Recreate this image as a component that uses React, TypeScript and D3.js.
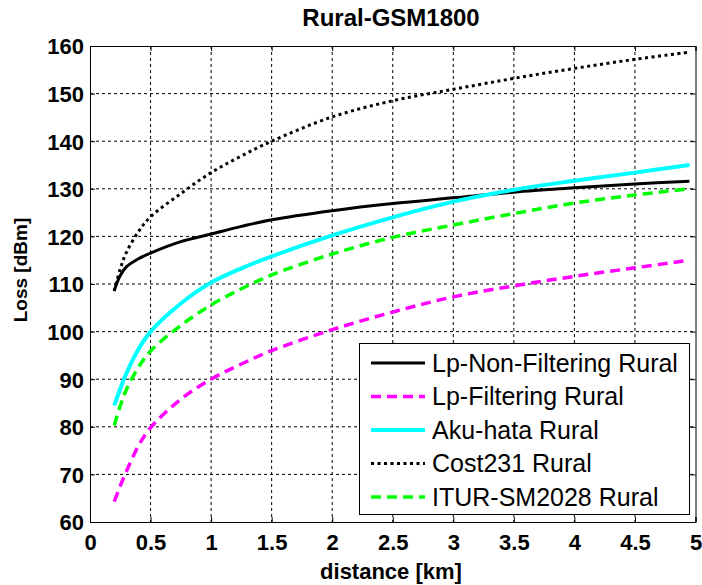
import React, { useEffect, useRef } from 'react';
import * as d3 from 'd3';

const distance = [0.2, 0.25, 0.3, 0.4, 0.5, 0.75, 1, 1.25, 1.5, 2, 2.5, 3, 3.5, 4, 4.5, 4.95];

const lpNonFiltering = [108.7, 111.8, 113.6, 115.3, 116.5, 118.9, 120.5, 122.1, 123.5, 125.4, 126.9, 128.1, 129.3, 130.2, 131.0, 131.6];
const lpFiltering = [64.3, 67.6, 70.6, 76.0, 79.8, 85.8, 90.0, 93.2, 96.0, 100.4, 104.1, 107.3, 109.6, 111.6, 113.4, 115.0];
const akuHata = [84.5, 88.0, 91.2, 96.3, 100.0, 105.9, 110.3, 113.3, 115.8, 120.2, 124.0, 127.3, 129.8, 131.7, 133.4, 135.0];
const cost231 = [108.5, 113.2, 116.6, 121.0, 124.1, 129.0, 133.4, 136.9, 140.0, 145.1, 148.5, 150.9, 153.2, 155.3, 157.2, 158.7];
const itur = [80.3, 84.4, 87.8, 92.5, 95.9, 101.3, 105.6, 109.0, 111.9, 116.3, 119.8, 122.4, 124.8, 127.0, 128.7, 130.0];

const xTicks = [0, 0.5, 1, 1.5, 2, 2.5, 3, 3.5, 4, 4.5, 5];
const yTicks = [60, 70, 80, 90, 100, 110, 120, 130, 140, 150, 160];

const series = [
  { name: 'Lp-Non-Filtering Rural', values: lpNonFiltering, color: '#000000', width: 3, dash: null },
  { name: 'Lp-Filtering Rural', values: lpFiltering, color: '#ff00ff', width: 3.5, dash: '10,6' },
  { name: 'Aku-hata Rural', values: akuHata, color: '#00ffff', width: 4, dash: null },
  { name: 'Cost231 Rural', values: cost231, color: '#000000', width: 3, dash: '3,3.5' },
  { name: 'ITUR-SM2028 Rural', values: itur, color: '#00ff00', width: 3.5, dash: '10,6' },
];

const W = 702;
const H = 585;
const font = '"Liberation Sans", Arial, sans-serif';

export default function App() {
  const ref = useRef<SVGSVGElement>(null);

  useEffect(() => {
    const svg = d3.select(ref.current);
    svg.selectAll('*').remove();

    const left = 90, right = 695.5, top = 46, bottom = 522;

    const x = d3.scaleLinear().domain([0, 5]).range([left, right]);
    const y = d3.scaleLinear().domain([60, 160]).range([bottom, top]);

    svg.append('rect')
      .attr('width', W).attr('height', H).attr('fill', '#fff');

    // grid
    const grid = svg.append('g');
    grid.selectAll('.gx')
      .data(xTicks.slice(1, -1))
      .join('line')
      .attr('x1', d => x(d)).attr('x2', d => x(d))
      .attr('y1', top).attr('y2', bottom)
      .attr('stroke', '#000').attr('stroke-width', 1)
      .attr('stroke-dasharray', '3,3');
    grid.selectAll('.gy')
      .data(yTicks.slice(1, -1))
      .join('line')
      .attr('x1', left).attr('x2', right)
      .attr('y1', d => y(d)).attr('y2', d => y(d))
      .attr('stroke', '#000').attr('stroke-width', 1)
      .attr('stroke-dasharray', '3,3');

    // axes, ticks inward like matlab
    const xAxis = d3.axisBottom(x).tickValues(xTicks).tickSize(-5).tickFormat(d3.format('~g'));
    const yAxis = d3.axisLeft(y).tickValues(yTicks).tickSize(-5);
    const xAxisTop = d3.axisTop(x).tickValues(xTicks).tickSize(-5).tickFormat(() => '');
    const yAxisRight = d3.axisRight(y).tickValues(yTicks).tickSize(-5).tickFormat(() => '');

    const gx = svg.append('g').attr('transform', `translate(0,${bottom})`).call(xAxis);
    const gy = svg.append('g').attr('transform', `translate(${left},0)`).call(yAxis);
    svg.append('g').attr('transform', `translate(0,${top})`).call(xAxisTop);
    svg.append('g').attr('transform', `translate(${right},0)`).call(yAxisRight);

    svg.selectAll('.domain').attr('stroke', '#000');
    svg.selectAll('.tick line').attr('stroke', '#000');

    gx.selectAll('text')
      .attr('font-family', font).attr('font-size', 22).attr('font-weight', 'bold')
      .attr('fill', '#000').attr('dy', null).attr('y', 28);
    gy.selectAll('text')
      .attr('font-family', font).attr('font-size', 22).attr('font-weight', 'bold')
      .attr('fill', '#000').attr('x', -6).attr('dy', '0.36em');

    // curves
    const line = d3.line<number>()
      .x((d, i) => x(distance[i]))
      .y(d => y(d))
      .curve(d3.curveCatmullRom.alpha(0.5));

    svg.selectAll('.curve')
      .data(series)
      .join('path')
      .attr('class', 'curve')
      .attr('d', d => line(d.values))
      .attr('fill', 'none')
      .attr('stroke', d => d.color)
      .attr('stroke-width', d => d.width)
      .attr('stroke-dasharray', d => d.dash);

    // legend
    const lg = svg.append('g');
    lg.append('rect')
      .attr('x', 359.5).attr('y', 343.5).attr('width', 330).attr('height', 171)
      .attr('fill', '#fff').attr('stroke', '#000').attr('stroke-width', 1);

    const rows = lg.selectAll('.row')
      .data(series)
      .join('g')
      .attr('transform', (d, i) => `translate(0,${363 + i * 33.5})`);
    rows.append('line')
      .attr('x1', 371).attr('x2', 425).attr('y1', 0).attr('y2', 0)
      .attr('stroke', d => d.color)
      .attr('stroke-width', d => d.width)
      .attr('stroke-dasharray', d => d.dash);
    rows.append('text')
      .attr('x', 432).attr('y', 0).attr('dy', '0.35em')
      .attr('font-family', font).attr('font-size', 25)
      .text(d => d.name);

    // labels
    svg.append('text')
      .attr('x', 391).attr('y', 26)
      .attr('text-anchor', 'middle')
      .attr('font-family', font).attr('font-size', 24).attr('font-weight', 'bold')
      .text('Rural-GSM1800');

    svg.append('text')
      .attr('x', 391).attr('y', 579)
      .attr('text-anchor', 'middle')
      .attr('font-family', font).attr('font-size', 22).attr('font-weight', 'bold')
      .text('distance [km]');

    svg.append('text')
      .attr('transform', `translate(27,270) rotate(-90)`)
      .attr('text-anchor', 'middle')
      .attr('font-family', font).attr('font-size', 19).attr('font-weight', 'bold')
      .text('Loss [dBm]');
  }, []);

  return (
    <svg ref={ref} width={W} height={H}
      style={{ position: 'absolute', left: 0, top: 0 }} />
  );
}
